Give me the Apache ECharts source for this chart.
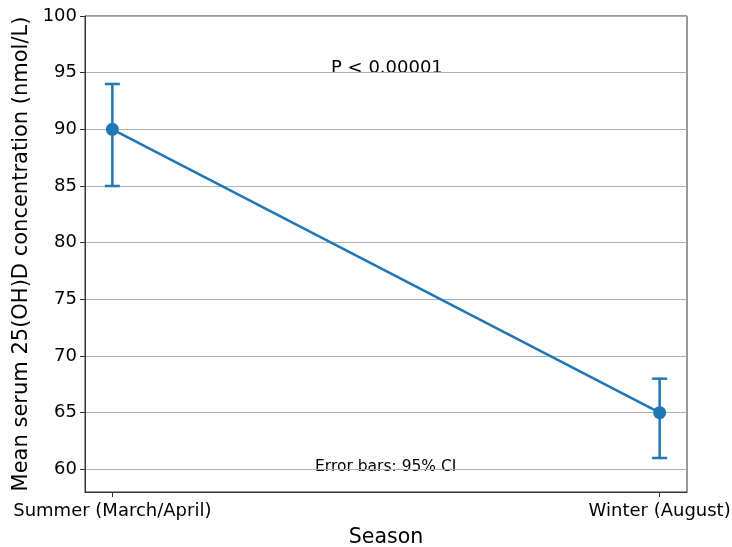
<!DOCTYPE html>
<html><head><meta charset="utf-8">
<script src="https://cdn.jsdelivr.net/npm/echarts@6/dist/echarts.min.js"></script>
<style>html,body{margin:0;padding:0;background:#fff}#c{width:732px;height:547px}</style>
</head><body><div id="c"></div>
<script>
const categories = ['Summer (March/April)', 'Winter (August)'];
const means = [90, 65];
const ciLow = [85, 61];
const ciHigh = [94, 68];
const yTicks = [60, 65, 70, 75, 80, 85, 90, 95, 100];
const pText = 'P < 0.00001';
const noteText = 'Error bars: 95% CI';

const F = 'DejaVu Sans';
const chart = echarts.init(document.getElementById('c'), null, {renderer: 'canvas'});
const xIdx = categories.map((c, i) => i);
chart.setOption({
  animation: false,
  backgroundColor: '#fff',
  grid: {left: 85, right: 45, top: 16, bottom: 55, show: true, borderColor: '#333', borderWidth: 1, backgroundColor: 'transparent', containLabel: false, outerBoundsMode: 'none'},
  xAxis: {
    type: 'value', min: -0.05, max: 1.05,
    name: 'Season', nameLocation: 'middle', nameGap: 35,
    nameTextStyle: {fontFamily: F, fontSize: 20.5, color: '#000'},
    axisLine: {show: true, onZero: false, lineStyle: {color: '#333', width: 1}},
    axisTick: {show: true, customValues: xIdx, length: 5, lineStyle: {color: '#333'}},
    axisLabel: {customValues: xIdx, formatter: v => categories[Math.round(v)] || '', fontFamily: F, fontSize: 18, color: '#000', margin: 10},
    splitLine: {show: false}
  },
  yAxis: {
    type: 'value', min: 58, max: 100,
    name: 'Mean serum 25(OH)D concentration (nmol/L)', nameLocation: 'middle', nameGap: 51, nameRotate: 90,
    nameTextStyle: {fontFamily: F, fontSize: 21, color: '#000'},
    axisLine: {show: true, onZero: false, lineStyle: {color: '#333', width: 1}},
    axisTick: {show: true, customValues: yTicks, length: 5, lineStyle: {color: '#333'}},
    axisLabel: {customValues: yTicks, fontFamily: F, fontSize: 18, color: '#000', margin: 8},
    splitLine: {show: true, lineStyle: {color: '#b0b0b0', width: 1}}
  },
  graphic: [
    {type: 'text', left: 331, top: 59, style: {text: pText, font: '18px "DejaVu Sans"', fill: '#000'}},
    {type: 'text', left: 315, top: 459, style: {text: noteText, font: '15.5px "DejaVu Sans"', fill: '#000'}}
  ],
  series: [
    {
      type: 'custom', z: 3,
      data: xIdx.map(i => [i, ciLow[i], ciHigh[i]]),
      renderItem: (params, api) => {
        const x = api.value(0);
        const lo = api.coord([x, api.value(1)]);
        const hi = api.coord([x, api.value(2)]);
        const w = 7.5;
        const st = {stroke: '#1f77b4', lineWidth: 2.5};
        return {type: 'group', children: [
          {type: 'line', shape: {x1: lo[0], y1: lo[1], x2: hi[0], y2: hi[1]}, style: st},
          {type: 'line', shape: {x1: lo[0] - w, y1: lo[1], x2: lo[0] + w, y2: lo[1]}, style: st},
          {type: 'line', shape: {x1: hi[0] - w, y1: hi[1], x2: hi[0] + w, y2: hi[1]}, style: st}
        ]};
      }
    },
    {
      type: 'line', z: 4,
      data: xIdx.map(i => [i, means[i]]),
      symbol: 'circle', symbolSize: 13,
      lineStyle: {color: '#1f77b4', width: 2.5},
      itemStyle: {color: '#1f77b4'}
    }
  ]
});
</script></body></html>
